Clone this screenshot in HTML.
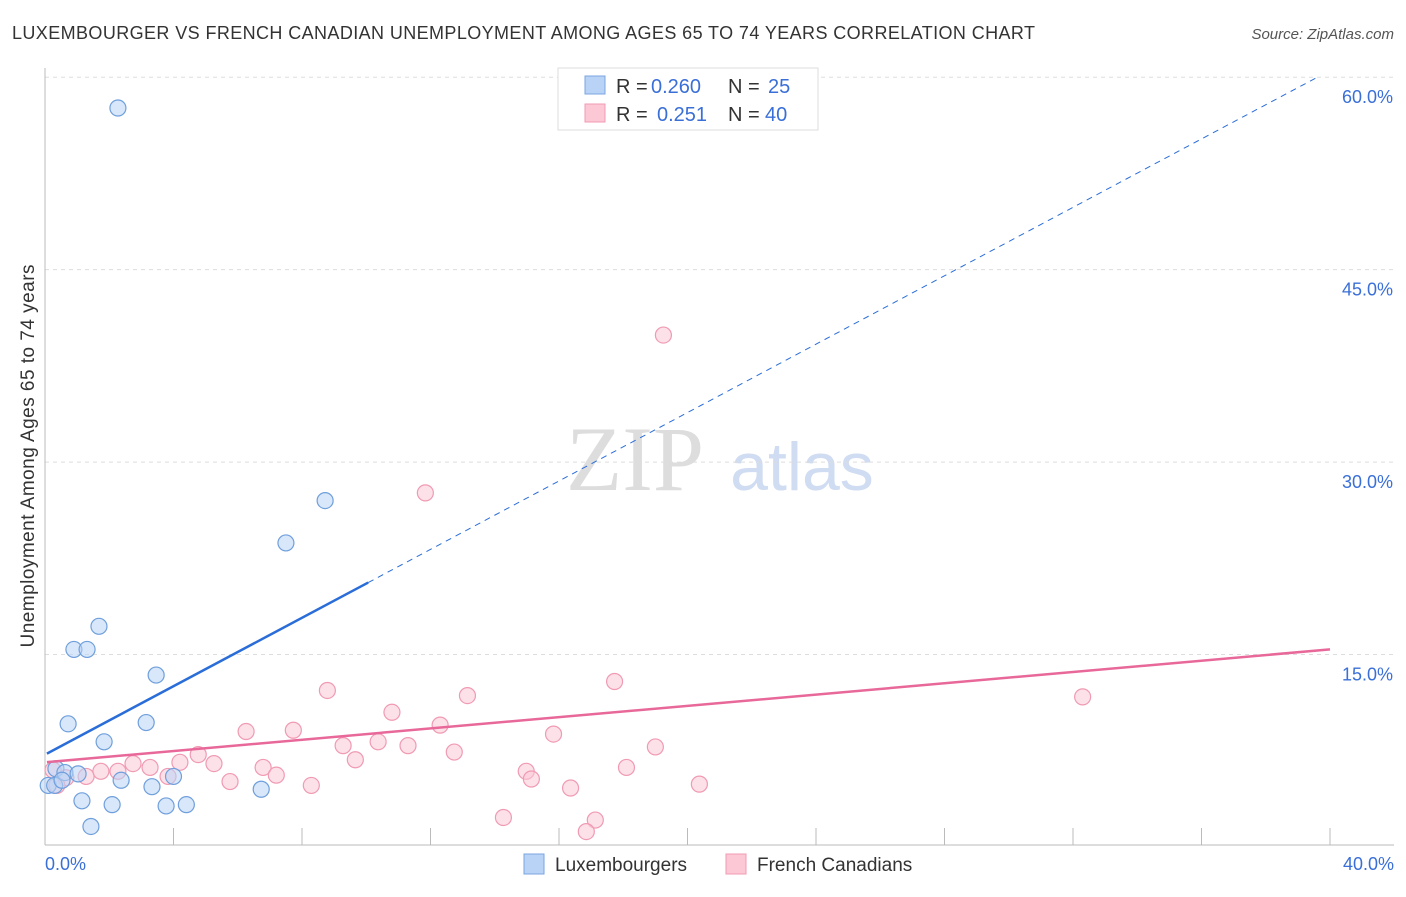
<!DOCTYPE html>
<html><head><meta charset="utf-8"><style>
body{margin:0;background:#fff;font-family:"Liberation Sans",sans-serif;}
</style></head><body>
<svg id="c" width="1406" height="892" xmlns="http://www.w3.org/2000/svg" font-family="Liberation Sans, sans-serif">
<text x="12" y="39" font-size="18" fill="#333" textLength="1023">LUXEMBOURGER VS FRENCH CANADIAN UNEMPLOYMENT AMONG AGES 65 TO 74 YEARS CORRELATION CHART</text>
<text x="1394" y="39" font-size="15" fill="#555" text-anchor="end" font-style="italic">Source: ZipAtlas.com</text>
<text transform="translate(34,456) rotate(-90)" font-size="19" fill="#333" text-anchor="middle" textLength="383">Unemployment Among Ages 65 to 74 years</text>
<g><text x="635" y="490" font-size="92" fill="#ddd" text-anchor="middle" style="font-family:'Liberation Serif',serif">ZIP</text><text x="802" y="490" font-size="68" fill="#cfdcf2" text-anchor="middle">atlas</text></g>
<g id="grid"></g><g id="marks"></g>
<g>
<rect x="558" y="68" width="260" height="62" fill="#fff" stroke="#ddd"/>
<rect x="585" y="76" width="20" height="18" fill="#b8d3f5" stroke="#7aa6e0"/>
<rect x="585" y="104" width="20" height="18" fill="#fcc8d6" stroke="#f09ab3"/>
<text x="616" y="93" font-size="20" fill="#333">R =</text><text x="651" y="93" font-size="20" fill="#3a6fd8">0.260</text>
<text x="728" y="93" font-size="20" fill="#333">N =</text><text x="768" y="93" font-size="20" fill="#3a6fd8">25</text>
<text x="616" y="121" font-size="20" fill="#333">R =</text><text x="657" y="121" font-size="20" fill="#3a6fd8">0.251</text>
<text x="728" y="121" font-size="20" fill="#333">N =</text><text x="765" y="121" font-size="20" fill="#3a6fd8">40</text>
</g>
<g>
<rect x="524" y="854" width="20" height="20" fill="#b8d3f5" stroke="#7aa6e0"/>
<text x="555" y="871" font-size="19" fill="#333">Luxembourgers</text>
<rect x="726" y="854" width="20" height="20" fill="#fcc8d6" stroke="#f09ab3"/>
<text x="757" y="871" font-size="19" fill="#333">French Canadians</text>
</g>
</svg>
<script>
const yTicks=[15,30,45,60];
const xTickLabels=["0.0%","40.0%"];
const luxX=[2.27,8.72,7.5,1.68,0.9,1.31,3.46,0.72,3.15,1.84,0.34,0.62,1.03,0.1,0.3,0.53,2.37,4.0,3.33,6.73,1.15,2.09,3.77,4.4,1.43];
const luxY=[57.6,27.0,23.7,17.2,15.4,15.4,13.4,9.6,9.7,8.2,6.1,5.8,5.7,4.8,4.8,5.2,5.2,5.5,4.7,4.5,3.6,3.3,3.2,3.3,1.6];
const frX=[19.25,11.84,17.73,32.3,8.79,13.15,10.8,7.73,12.3,6.26,15.83,9.28,10.37,11.3,19.0,12.74,4.77,4.2,2.74,9.66,5.26,3.27,6.79,18.1,1.74,2.27,3.83,7.2,14.98,15.14,0.25,1.28,0.65,0.37,5.76,8.29,16.36,20.37,14.27,17.13,16.85];
const frY=[39.9,27.6,12.9,11.7,12.2,11.8,10.5,9.1,9.5,9.0,8.8,7.9,8.2,7.9,7.8,7.4,7.2,6.6,6.5,6.8,6.5,6.2,6.2,6.2,5.9,5.9,5.5,5.6,5.9,5.3,6.0,5.5,5.4,4.8,5.1,4.8,4.6,4.9,2.3,2.1,1.2];
const luxTrend=[7.2,1.333];
const frTrend=[6.6,0.22];
const X=v=>45+v*32.125, Y=v=>847-v*12.83;
const NS="http://www.w3.org/2000/svg";
function mk(p,t,a){const e=document.createElementNS(NS,t);for(const k in a)e.setAttribute(k,a[k]);p.appendChild(e);return e;}
const g=document.getElementById('grid'),m=document.getElementById('marks');
yTicks.forEach(t=>{
const l=mk(g,'line',{x1:45,x2:1394,y1:Y(t),y2:Y(t),stroke:'#ddd','stroke-dasharray':'4,4'});


const tx=mk(g,'text',{x:1393,y:Y(t)+26,'font-size':18,fill:'#3a6fd8','text-anchor':'end'});tx.textContent=t.toFixed(1)+'%';


});
mk(g,'line',{x1:45,x2:45,y1:68,y2:845,stroke:'#bbb'});
mk(g,'line',{x1:45,x2:1394,y1:845,y2:845,stroke:'#bbb'});
for(let i=0;i<=10;i++){mk(g,'line',{x1:X(i*4),x2:X(i*4),y1:828,y2:845,stroke:'#bbb'});}
[[0,'start',45],[40,'end',1394]].forEach((d,i)=>{const t=mk(g,'text',{x:d[2],y:870,'font-size':18,fill:'#3a6fd8','text-anchor':d[1]});t.textContent=xTickLabels[i];

});
const lb=mk(m,'line',{x1:X(0.06),y1:Y(luxTrend[0]+luxTrend[1]*0.06),x2:X(10.06),y2:Y(luxTrend[0]+luxTrend[1]*10.06),stroke:'#2a6dd9','stroke-width':2.5});


const ld=mk(m,'line',{x1:X(10.06),y1:Y(luxTrend[0]+luxTrend[1]*10.06),x2:X(39.6),y2:Y(luxTrend[0]+luxTrend[1]*39.6),stroke:'#2a6dd9','stroke-width':1,'stroke-dasharray':'6,5'});


function pts(xs,ys,f,s,n){xs.forEach((x,i)=>{const c=mk(m,'circle',{cx:X(x),cy:Y(ys[i]),r:8,fill:f,'fill-opacity':0.55,stroke:s,'stroke-width':1.2});

});}
pts(frX,frY,'#fcc8d6','#f09ab3','french-canadian-point');
pts(luxX,luxY,'#b8d3f5','#6f9fdc','luxembourger-point');
const lf=mk(m,'line',{x1:X(0.06),y1:Y(frTrend[0]+frTrend[1]*0.06),x2:X(40),y2:Y(frTrend[0]+frTrend[1]*40),stroke:'#e8689a','stroke-width':2.5});


</script>
</body></html>
